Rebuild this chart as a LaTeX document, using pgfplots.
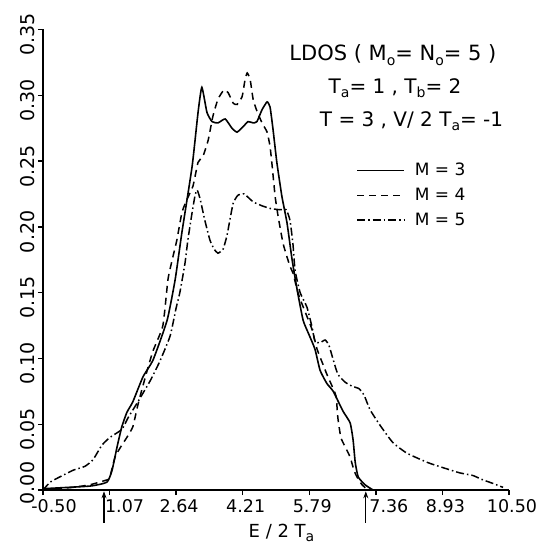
\documentclass[border=0pt]{standalone}
\usepackage{fontspec}
\setmainfont{DejaVu Sans}
\usepackage{pgfplots}
\pgfplotsset{compat=1.18}
\usetikzlibrary{arrows.meta}
\newcommand{\sub}[1]{\raisebox{-0.4ex}{\fontsize{14}{14}\selectfont #1}}
\begin{document}
\begin{tikzpicture}[x=1pt,y=1pt]
\path[use as bounding box] (-43,-56) rectangle (497,490);
\begin{axis}[
  scale only axis, width=466pt, height=460.5pt,
  xmin=-0.5, xmax=10.5, ymin=0, ymax=0.35,
  axis x line=bottom, axis y line=left,
  axis line style={-, line width=1.3pt},
  xtick={-0.5,1.0714,2.6429,4.2143,5.7857,7.3571,8.9286,10.5},
  xticklabels={\hspace{16pt}-0.50,\hspace{24pt}1.07,2.64,4.21,5.79,\hspace{20pt}7.36,8.93,10.50},
  ytick={0,0.05,0.10,0.15,0.20,0.25,0.30,0.35},
  yticklabels={\hspace{24pt}0.00,0.05,0.10,0.15,0.20,0.25,0.30,0.35},
  /pgf/number format/assume math mode=true,
  tick align=outside, major tick length=5pt,
  tick style={line width=1.3pt, black},
  xticklabel style={font=\fontsize{17.5}{17.5}\selectfont, anchor=north, yshift=-1pt, xshift=3pt},
  yticklabel style={font=\fontsize{19}{19}\selectfont, rotate=90, anchor=south, xshift=-5pt},
  clip=false,
  legend style={draw=none, fill=none, at={(axis cs:6.89,0.250)}, anchor=north west,
    font=\fontsize{17}{17}\selectfont, row sep=7pt, inner sep=0pt},
  legend cell align=left,
  legend image code/.code={\draw[#1] (0pt,0pt) -- (47pt,0pt);},
]
\addplot[black, line width=1.6pt, smooth, tension=0.3] coordinates {
(-0.5,0.001) (0.61,0.003) (1.01,0.006) (1.13,0.015) (1.25,0.033) (1.36,0.048)
(1.48,0.059) (1.62,0.067) (1.86,0.086) (2.10,0.099) (2.43,0.129) (2.62,0.160)
(2.78,0.196) (3.02,0.246) (3.16,0.287) (3.25,0.306) (3.37,0.287) (3.49,0.280)
(3.63,0.279) (3.80,0.282) (3.96,0.275) (4.08,0.272) (4.22,0.276) (4.34,0.280)
(4.46,0.279) (4.55,0.280) (4.67,0.289) (4.79,0.295) (4.86,0.291) (4.93,0.274)
(5.02,0.249) (5.14,0.223) (5.26,0.203) (5.38,0.175) (5.50,0.152) (5.64,0.129)
(5.78,0.118) (5.92,0.107) (6.04,0.091) (6.20,0.081) (6.35,0.075) (6.58,0.060)
(6.75,0.051) (6.82,0.038) (6.87,0.021) (6.94,0.010) (7.10,0.004) (7.29,0.000)
};
\addlegendentry{\hspace{8pt}M = 3}
\addplot[black, line width=1.5pt, dash pattern=on 7pt off 5pt, smooth, tension=0.3] coordinates {
(-0.5,0.000) (0.2,0.002) (0.61,0.004) (1.04,0.008) (1.08,0.010) (1.20,0.025)
(1.32,0.032) (1.48,0.040) (1.62,0.048) (1.72,0.062) (1.79,0.071) (1.96,0.091)
(2.10,0.106) (2.33,0.125) (2.45,0.160) (2.55,0.175) (2.66,0.190) (2.78,0.211)
(2.90,0.221) (3.04,0.231) (3.16,0.249) (3.28,0.254) (3.40,0.266) (3.51,0.284)
(3.63,0.297) (3.77,0.304) (3.87,0.302) (3.99,0.294) (4.08,0.293) (4.20,0.299)
(4.27,0.312) (4.32,0.317) (4.39,0.312) (4.46,0.297) (4.55,0.288) (4.67,0.279)
(4.79,0.272) (4.86,0.261) (4.91,0.246) (4.98,0.223) (5.05,0.208) (5.17,0.187)
(5.33,0.170) (5.40,0.165) (5.50,0.152) (5.57,0.145) (5.73,0.132) (5.85,0.122)
(5.97,0.107) (6.09,0.097) (6.20,0.088) (6.35,0.077) (6.42,0.071) (6.46,0.055)
(6.53,0.040) (6.63,0.033) (6.75,0.025) (6.84,0.015) (6.91,0.010) (7.03,0.004)
(7.17,0.000)
};
\addlegendentry{\hspace{8pt}M = 4}
\addplot[black, line width=1.5pt, dash pattern=on 8pt off 3pt on 1.5pt off 3pt, smooth, tension=0.3] coordinates {
(-0.5,0.000) (-0.33,0.006) (-0.10,0.010) (0.21,0.015) (0.49,0.018) (0.68,0.023)
(0.89,0.034) (1.08,0.040) (1.36,0.046) (1.51,0.055) (1.72,0.066) (2.03,0.083)
(2.26,0.098) (2.50,0.117) (2.64,0.138) (2.73,0.150) (2.85,0.172) (2.92,0.190)
(3.02,0.211) (3.09,0.224) (3.14,0.228) (3.21,0.221) (3.32,0.205) (3.44,0.190)
(3.54,0.183) (3.63,0.180) (3.75,0.183) (3.84,0.193) (3.91,0.205) (3.99,0.218)
(4.10,0.224) (4.25,0.225) (4.46,0.219) (4.67,0.216) (4.86,0.214) (5.09,0.213)
(5.24,0.213) (5.33,0.205) (5.40,0.187) (5.45,0.167) (5.57,0.150) (5.73,0.139)
(5.85,0.124) (5.92,0.113) (6.04,0.112) (6.16,0.114) (6.25,0.110) (6.35,0.099)
(6.46,0.088) (6.63,0.082) (6.79,0.079) (6.96,0.077) (7.08,0.072) (7.22,0.061)
(7.46,0.049) (7.76,0.036) (8.09,0.028) (8.57,0.021) (8.94,0.017) (9.34,0.013)
(9.65,0.011) (9.86,0.008) (10.12,0.005) (10.36,0.002)
};
\addlegendentry{\hspace{8pt}M = 5}
\draw[line width=1.1pt, -{Stealth[length=7pt,width=5pt]}] (axis cs:0.94,-0.025) -- (axis cs:0.94,-0.001);
\draw[line width=1.1pt, -{Stealth[length=7pt,width=5pt]}] (axis cs:7.12,-0.025) -- (axis cs:7.12,-0.001);
\node[anchor=base, font=\fontsize{21}{21}\selectfont] at (axis cs:7.76,0.3265) {LDOS ( M\sub{o}= N\sub{o}= 5 )};
\node[anchor=base, font=\fontsize{20}{20}\selectfont] at (axis cs:7.81,0.3014) {T\sub{a}= 1 , T\sub{b}= 2};
\node[anchor=base, font=\fontsize{20}{20}\selectfont] at (axis cs:8.20,0.2763) {T = 3 , V/ 2 T\sub{a}= -1};
\node[anchor=base, font=\fontsize{18}{18}\selectfont] at (axis cs:5.13,-0.0360) {E / 2 T\sub{a}};
\end{axis}
\end{tikzpicture}
\end{document}
